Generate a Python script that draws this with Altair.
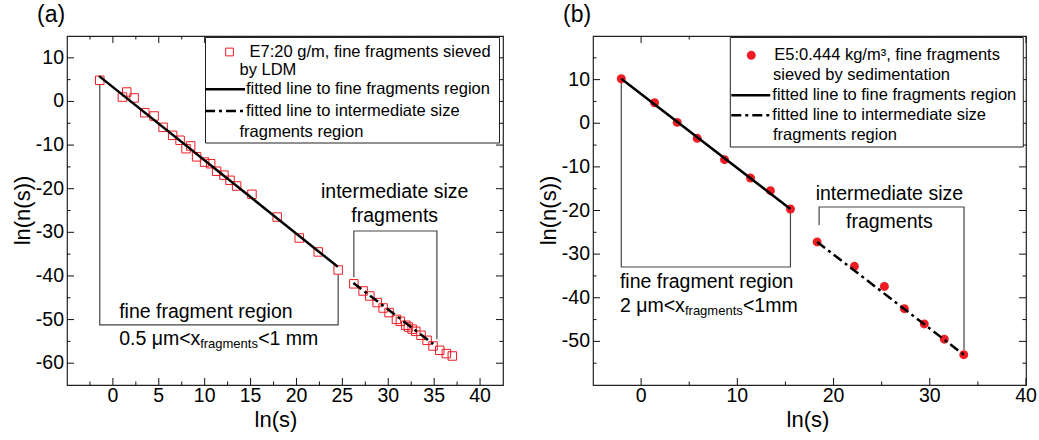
import altair as alt
import pandas as pd

FONT = "Liberation Sans"
RED = "#ee1c24"

# ---------------- panel (a) values ----------------
a_fine_x = [-1.43, 1.04, 1.51, 2.31, 3.47, 4.49, 5.47, 6.51, 7.32, 7.97, 8.47, 9.12, 9.99,
            10.65, 11.3, 12.1, 12.76, 13.48, 15.15, 17.9, 20.3, 22.37, 24.54]
a_fine_y = [4.85, 1.0, 2.16, 0.8, -2.58, -3.34, -5.93, -7.77, -8.9, -10.83, -10.2, -12.7, -13.9,
            -14.27, -16.0, -16.9, -18.08, -19.38, -21.29, -26.5, -31.3, -34.5, -38.64]
a_int_x = [26.25, 27.26, 27.99, 28.79, 29.44, 30.09, 30.89, 31.32, 31.91, 32.19, 32.6, 33.0,
           33.57, 34.23, 34.88, 35.61, 36.33, 36.98]
a_int_y = [-41.8, -43.45, -44.6, -46.1, -47.35, -48.4, -49.95, -50.4, -51.3, -51.7, -52.2, -52.7,
           -53.6, -54.76, -56.06, -57.05, -57.8, -58.35]
a_fit_fine_x = [-1.5, 24.5]
a_fit_fine_y = [5.8, -37.9]
a_fit_int_x = [26.2, 34.9]
a_fit_int_y = [-41.6, -55.6]

# ---------------- panel (b) values ----------------
b_fine_x = [-2.06, 1.40, 3.75, 5.83, 8.67, 11.37, 13.44, 15.52]
b_fine_y = [10.2, 4.7, 0.2, -3.45, -8.35, -12.55, -15.46, -19.66]
b_int_x = [18.29, 22.17, 25.28, 27.36, 29.43, 31.51, 33.53]
b_int_y = [-27.2, -32.8, -37.4, -42.5, -46.0, -49.5, -53.05]
b_fit_fine_x = [-2.06, 15.52]
b_fit_fine_y = [10.2, -19.66]
b_fit_int_x = [18.29, 33.53]
b_fit_int_y = [-27.2, -53.05]

# ---------------- ticks ----------------
a_xmajor = [0, 5, 10, 15, 20, 25, 30, 35, 40]
a_xminor = [-2.5, 2.5, 7.5, 12.5, 17.5, 22.5, 27.5, 32.5, 37.5]
a_ymajor = [10, 0, -10, -20, -30, -40, -50, -60]
a_yminor = [5, -5, -15, -25, -35, -45, -55]
b_xmajor = [0, 10, 20, 30, 40]
b_xminor = [5, 15, 25, 35]
b_ymajor = [10, 0, -10, -20, -30, -40, -50]
b_yminor = [15, 5, -5, -15, -25, -35, -45, -55]

# ---------------- texts ----------------
a_legend = ["E7:20 g/m, fine fragments sieved", "by LDM",
            "fitted line to fine fragments region", "fitted line to intermediate size",
            "fragments region"]
b_legend = ["E5:0.444 kg/m³, fine fragments", "sieved by sedimentation",
            "fitted line to fine fragments region", "fitted line to intermediate size",
            "fragments region"]
a_notes = ["fine fragment region", "0.5 μm<x", "fragments", "<1 mm", "intermediate size", "fragments"]
b_notes = ["fine fragment region", "2 μm<x", "fragments", "<1mm", "intermediate size", "fragments"]
x_title = "ln(s)"
y_title = "ln(n(s))"

DASHDOT = [10, 4, 3, 4]
MAJ, MIN = 7, 3.5
LABEL_SIZE = 19.5


def txt(df, **kw):
    base = dict(font=FONT, color="#000", baseline="middle")
    base.update(kw)
    return alt.Chart(df).mark_text(**base)


def panel(letter, W, H, xdom, ydom, xmaj, xmin, ymaj, ymin,
          fine_x, fine_y, int_x, int_y, ffx, ffy, fix, fiy,
          brackets, notes_spec, legend_spec, marker, xtitle_x):
    xs = alt.Scale(domain=xdom, nice=False, zero=False)
    ys = alt.Scale(domain=ydom, nice=False, zero=False)

    def X():
        return alt.X("x:Q", scale=xs, axis=None)

    def Y():
        return alt.Y("y:Q", scale=ys, axis=None)

    layers = []

    # inward tick marks on all four sides (segments in data units)
    ux = (xdom[1] - xdom[0]) / W   # data units per pixel
    uy = (ydom[1] - ydom[0]) / H
    trows = []
    k = 0
    for vals, L in ((xmaj, MAJ), (xmin, MIN)):
        for v in vals:
            for (y0, y1) in ((ydom[0], ydom[0] + L * uy), (ydom[1], ydom[1] - L * uy)):
                trows += [{"x": v, "y": y0, "k": k, "o": 0}, {"x": v, "y": y1, "k": k, "o": 1}]
                k += 1
    for vals, L in ((ymaj, MAJ), (ymin, MIN)):
        for v in vals:
            for (x0, x1) in ((xdom[0], xdom[0] + L * ux), (xdom[1], xdom[1] - L * ux)):
                trows += [{"x": x0, "y": v, "k": k, "o": 0}, {"x": x1, "y": v, "k": k, "o": 1}]
                k += 1
    layers.append(alt.Chart(pd.DataFrame(trows)).mark_line(color="#111", strokeWidth=1).encode(
        x=X(), y=Y(), detail="k:N", order="o:Q"))

    # brackets
    rows = []
    for bi, path in enumerate(brackets):
        for oi, (bx, by) in enumerate(path):
            rows.append({"x": bx, "y": by, "b": bi, "o": oi})
    layers.append(alt.Chart(pd.DataFrame(rows)).mark_line(color="#444", strokeWidth=1.2).encode(
        x=X(), y=Y(), detail="b:N", order="o:Q"))

    # tick labels and axis titles
    layers.append(txt(pd.DataFrame({"x": xmaj, "t": [str(v) for v in xmaj]}),
                      fontSize=LABEL_SIZE, align="center").encode(
        x=X(), y=alt.value(H + 11), text="t:N"))
    layers.append(txt(pd.DataFrame({"y": ymaj, "t": [str(v) for v in ymaj]}),
                      fontSize=LABEL_SIZE, align="right").encode(
        y=Y(), x=alt.value(-3), text="t:N"))
    layers.append(txt(pd.DataFrame({"t": [x_title]}), fontSize=22, align="center").encode(
        x=alt.value(xtitle_x), y=alt.value(H + 35), text="t:N"))
    layers.append(txt(pd.DataFrame({"t": [y_title]}), fontSize=22, align="center", angle=270).encode(
        x=alt.value(-44), y=alt.value(H / 2), text="t:N"))
    layers.append(txt(pd.DataFrame({"t": [letter]}), fontSize=23, align="left").encode(
        x=alt.value(-30), y=alt.value(-21), text="t:N"))

    pts = pd.DataFrame({"x": fine_x + int_x, "y": fine_y + int_y})
    if marker == "square":
        pmark = alt.Chart(pts).mark_point(shape="square", filled=False, color=RED, size=72,
                                          strokeWidth=1, opacity=1)
    else:
        pmark = alt.Chart(pts).mark_circle(color=RED, size=80, opacity=1)
    layers.append(pmark.encode(x=X(), y=Y()))

    layers.append(alt.Chart(pd.DataFrame({"x": ffx, "y": ffy})).mark_line(
        color="black", strokeWidth=2.5).encode(x=X(), y=Y()))
    layers.append(alt.Chart(pd.DataFrame({"x": fix, "y": fiy})).mark_line(
        color="black", strokeWidth=2.5, strokeDash=DASHDOT).encode(x=X(), y=Y()))

    for (t, tx, ty, align, size, dx, dy) in notes_spec:
        layers.append(txt(pd.DataFrame({"x": [tx], "y": [ty], "t": [t]}),
                          fontSize=size, align=align, dx=dx, dy=dy).encode(
            x=X(), y=Y(), text="t:N"))

    # legend
    box, sym, lines, texts = legend_spec
    one = pd.DataFrame({"k": [0]})
    layers.append(alt.Chart(one).mark_rect(fill="white", stroke="#222", strokeWidth=1).encode(
        x=alt.value(box[0]), x2=alt.value(box[1]), y=alt.value(box[2]), y2=alt.value(box[3])))
    if marker == "square":
        layers.append(alt.Chart(one).mark_point(shape="square", filled=False, color=RED, size=60,
                                                strokeWidth=1, opacity=1).encode(
            x=alt.value(sym[0]), y=alt.value(sym[1])))
    else:
        layers.append(alt.Chart(one).mark_circle(color=RED, size=80, opacity=1).encode(
            x=alt.value(sym[0]), y=alt.value(sym[1])))
    for (lx1, lx2, ly, dash) in lines:
        kw = {"strokeDash": DASHDOT} if dash else {}
        layers.append(alt.Chart(one).mark_rule(color="black", strokeWidth=2.5, **kw).encode(
            x=alt.value(lx1), x2=alt.value(lx2), y=alt.value(ly)))
    for (t, tx, ty) in texts:
        layers.append(txt(pd.DataFrame({"t": [t]}), fontSize=16.5, align="left").encode(
            x=alt.value(tx), y=alt.value(ty), text="t:N"))

    return alt.layer(*layers).properties(width=W, height=H)


# panel (a)
a_brackets = [
    [(a_fine_x[0], 3.8), (a_fine_x[0], -51.2), (a_fine_x[-1], -51.2), (a_fine_x[-1], -39.8)],
    [(26.25, -40.3), (26.25, -29.7), (35.3, -29.7), (35.3, -54.5)],
]
a_notes_spec = [
    (a_notes[0], 0.68, -48.3, "left", 19.5, 0, 0),
    (a_notes[1], 0.68, -54.45, "left", 19.5, 0, 0),
    (a_notes[2], 0.68, -54.45, "left", 13, 81, 5),
    (a_notes[3], 0.68, -54.45, "left", 19.5, 139, 0),
    (a_notes[4], 30.7, -20.8, "center", 19.5, 0, 0),
    (a_notes[5], 30.7, -26.3, "center", 19.5, 0, 0),
]
a_legend_spec = (
    (138.5, 432.5, 1.5, 107),
    (162.5, 16),
    [(138, 178, 53.3, False), (138, 178, 75, True)],
    [(a_legend[0], 182.5, 16), (a_legend[1], 172.5, 34.3), (a_legend[2], 179, 53.3),
     (a_legend[3], 179, 75), (a_legend[4], 172.5, 96)],
)

# panel (b)
b_brackets = [
    [(b_fine_x[0], 10.2), (b_fine_x[0], -32.95), (b_fine_x[-1], -32.95), (b_fine_x[-1], -19.66)],
    [(18.5, -23.3), (18.5, -19.2), (33.56, -19.2), (33.56, -52.0)],
]
b_notes_spec = [
    (b_notes[0], -2.2, -36.4, "left", 19.5, 0, 0),
    (b_notes[1], -2.2, -41.9, "left", 19.5, 0, 0),
    (b_notes[2], -2.2, -41.9, "left", 13, 65, 5),
    (b_notes[3], -2.2, -41.9, "left", 19.5, 123, 0),
    (b_notes[4], 25.8, -16.2, "center", 19.5, 0, 0),
    (b_notes[5], 25.8, -22.6, "center", 19.5, 0, 0),
]
b_legend_spec = (
    (137.3, 430.3, 1.5, 111),
    (158.3, 19.3),
    [(138.3, 177.3, 59.3, False), (138.3, 177.3, 79.3, True)],
    [(b_legend[0], 181.3, 19.3), (b_legend[1], 180, 38.7), (b_legend[2], 179.3, 59.3),
     (b_legend[3], 179.3, 79.3), (b_legend[4], 180, 98.7)],
)

pa = panel("(a)", 436, 349, [-5, 42.5], [-65, 15], a_xmajor, a_xminor, a_ymajor, a_yminor,
           a_fine_x, a_fine_y, a_int_x, a_int_y, a_fit_fine_x, a_fit_fine_y, a_fit_int_x, a_fit_int_y,
           a_brackets, a_notes_spec, a_legend_spec, "square", 209)
pb = panel("(b)", 433, 349, [-5, 40], [-60, 20], b_xmajor, b_xminor, b_ymajor, b_yminor,
           b_fine_x, b_fine_y, b_int_x, b_int_y, b_fit_fine_x, b_fit_fine_y, b_fit_int_x, b_fit_int_y,
           b_brackets, b_notes_spec, b_legend_spec, "circle", 215)

chart = alt.hconcat(pa, pb, spacing=31).properties(
    padding={"left": 11, "top": 3, "right": 0, "bottom": 0}
).configure_view(stroke="#222", strokeWidth=1.2)

chart.save("out.html", embed_options={"renderer": "svg", "actions": False})
